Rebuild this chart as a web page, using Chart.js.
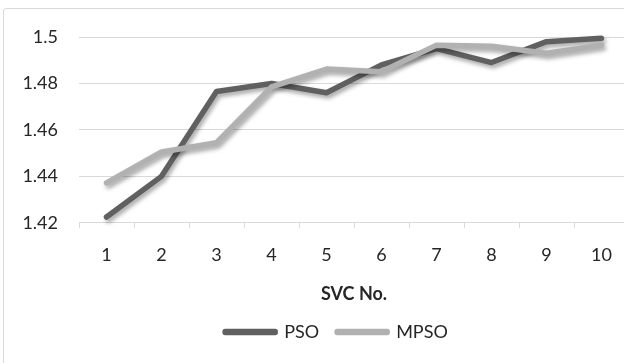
<!DOCTYPE html>
<html>
<head>
<meta charset="utf-8">
<script src="https://cdn.jsdelivr.net/npm/chart.js@4.4.0/dist/chart.umd.min.js"></script>
<style>
  body { margin: 0; background: #fff; overflow: hidden; }
  #frame {
    position: absolute; left: 3px; top: 8px; width: 700px; height: 420px;
    border: 1px solid #d9d9d9; border-radius: 3px;
  }
  #wrap { position: absolute; left: 0; top: 0; }
</style>
</head>
<body>
<div id="frame"></div>
<div id="wrap"><canvas id="chart" width="670" height="351"></canvas></div>
<script>
const categories = ["1", "2", "3", "4", "5", "6", "7", "8", "9", "10"];
const psoValues = [1.4225, 1.4400, 1.4765, 1.4800, 1.4760, 1.4880, 1.4950, 1.4890, 1.4980, 1.4995];
const mpsoValues = [1.4372, 1.4505, 1.4545, 1.4785, 1.4862, 1.4850, 1.4965, 1.4960, 1.4930, 1.4965];
const yTicks = [1.42, 1.44, 1.46, 1.48, 1.5];

const font = "Lato";
const textColor = "#262626";

// soft drop shadow under each line, like the Excel style
const lineShadow = {
  id: "lineShadow",
  beforeDatasetDraw(chart) {
    const ctx = chart.ctx;
    ctx.save();
    ctx.shadowColor = "rgba(0,0,0,0.35)";
    ctx.shadowBlur = 4;
    ctx.shadowOffsetX = 2;
    ctx.shadowOffsetY = 3;
  },
  afterDatasetDraw(chart) {
    chart.ctx.restore();
  }
};

// the original chart is wider than the crop, so its legend sits right of the plot centre
const legendShift = {
  id: "legendShift",
  afterLayout(chart) {
    chart.legend.left += 22;
    chart.legend.right += 22;
  }
};

const ctx = document.getElementById("chart").getContext("2d");
new Chart(ctx, {
  type: "line",
  data: {
    labels: categories,
    datasets: [{
      label: "PSO",
      data: psoValues,
      borderColor: "#606060",
      backgroundColor: "#606060",
      borderWidth: 5.5,
      borderCapStyle: "round",
      borderJoinStyle: "round",
      pointRadius: 0,
      tension: 0,
      clip: false,
      order: 2
    }, {
      label: "MPSO",
      data: mpsoValues,
      borderColor: "#b1b1b1",
      backgroundColor: "#b1b1b1",
      borderWidth: 5.5,
      borderCapStyle: "round",
      borderJoinStyle: "round",
      pointRadius: 0,
      tension: 0,
      clip: false,
      order: 1
    }]
  },
  options: {
    responsive: false,
    animation: false,
    layout: { padding: { left: 0, right: 41, top: 37, bottom: 0 } },
    plugins: {
      tooltip: { enabled: false },
      legend: {
        position: "bottom",
        labels: {
          sort: (a, b) => a.datasetIndex - b.datasetIndex,
          boxWidth: 50,
          boxHeight: 1,
          padding: 18,
          color: textColor,
          font: { family: font, size: 18 }
        }
      }
    },
    scales: {
      x: {
        offset: true,
        grid: {
          offset: true,
          drawOnChartArea: false,
          drawTicks: true,
          tickLength: 5,
          color: "#d9d9d9"
        },
        border: { color: "#d9d9d9" },
        ticks: {
          padding: 17,
          color: textColor,
          font: { family: font, size: 18 },
          maxRotation: 0
        },
        title: {
          display: true,
          text: "SVC No.",
          color: textColor,
          font: { family: font, size: 18, weight: "bold" },
          padding: { top: 0, bottom: 0 }
        }
      },
      y: {
        min: yTicks[0],
        max: yTicks[yTicks.length - 1],
        afterFit(scale) { scale.width = 79; },
        afterBuildTicks(scale) { scale.ticks = yTicks.map(v => ({ value: v })); },
        grid: { color: "#d9d9d9", drawTicks: false },
        border: { display: false },
        ticks: {
          padding: 21,
          color: textColor,
          font: { family: font, size: 18 },
          callback: v => String(+v.toFixed(2))
        }
      }
    }
  },
  plugins: [lineShadow, legendShift]
});
</script>
</body>
</html>
